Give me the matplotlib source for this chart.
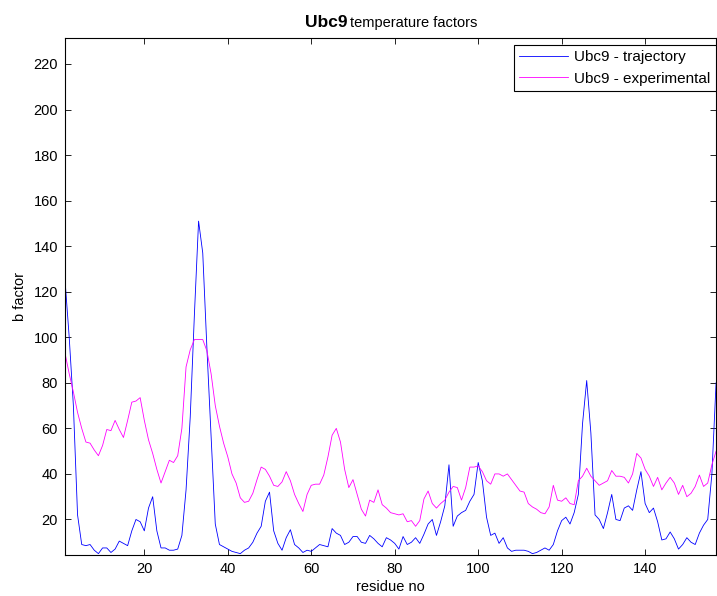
import numpy as np
import matplotlib
matplotlib.use("Agg")
import matplotlib.pyplot as plt

plt.rcParams['font.family'] = ['Liberation Sans', 'DejaVu Sans']

# residue numbers 1..157
residues = np.arange(1, 158)

# b factors from the trajectory (blue)
b_traj = [
    125, 100, 70, 22, 9, 8.5, 9, 6.5, 5, 7.5,
    7.5, 5.5, 7, 10.5, 9.5, 8.5, 15, 20, 19, 15,
    25, 30, 15, 7.5, 7.5, 6.5, 6.5, 7, 13, 33,
    65, 110, 151, 137, 95, 57, 18, 9, 8, 7,
    6, 5.5, 5, 6.5, 7.5, 10, 14, 17, 28, 32,
    15, 9.5, 6.5, 12, 15.5, 9, 7.5, 5.5, 6.5, 6,
    7.5, 9, 8.5, 8, 16, 14, 13, 9, 10, 12.5,
    12.5, 10, 9.5, 13, 11.5, 9.5, 8, 12, 11, 9.5,
    7, 12.5, 9, 10, 12, 9.5, 13.5, 18, 20, 13,
    19, 26, 44, 17, 21.5, 23, 24, 28, 31, 45,
    37, 21, 13, 14, 9.5, 12, 7.5, 6, 6.5, 6.5,
    6.5, 6, 5, 5.5, 6.5, 7.5, 6.5, 9, 15, 19.5,
    21, 18, 23, 31, 62, 81, 58, 22, 20, 16,
    23, 31, 20, 19.5, 25, 26, 24, 33, 41, 27,
    23, 25, 19, 11, 11.5, 14.5, 11.5, 7, 9, 12,
    10, 9, 14, 17.5, 20, 40, 80,
]

# b factors from the crystal structure (magenta)
b_exp = [
    93, 84, 76, 67, 60, 54, 53.5, 50.5, 48, 52.5,
    59.5, 59, 63.5, 59.5, 56, 63.5, 71.5, 72, 73.5, 63.5,
    55, 49, 42, 36, 41, 46, 45, 48, 60, 87,
    94.5, 99, 99, 99, 94, 84, 70, 61, 53.5, 47.5,
    40, 36, 29.5, 27.5, 28, 31.5, 37.5, 43, 42, 39,
    35, 34.5, 36.5, 41, 37, 31, 27, 23.5, 31, 35,
    35.5, 35.5, 39.5, 47.5, 57, 60, 54, 42, 34, 37.5,
    31, 24.5, 21.5, 28.5, 27.5, 33, 26.5, 25, 23, 22.5,
    22, 22.5, 19, 19.5, 17, 19.5, 29, 32.5, 27, 25,
    27, 28.5, 32, 34.5, 34, 28.5, 34, 43, 43, 43.5,
    41, 37, 35.5, 40, 40, 39, 40, 37.5, 35, 32.5,
    32, 27, 25.5, 24.5, 23, 22.5, 25.5, 35, 28.5, 28,
    29.5, 27, 26.5, 37, 39, 42.5, 39, 37, 35, 36,
    37, 41.5, 39, 39, 38.5, 36, 40, 49, 47, 42,
    39, 34.5, 38.5, 33, 36, 38.5, 36, 31, 35, 30,
    31.5, 34.5, 39.5, 34.5, 36, 44, 50,
]

y_ticks = [20, 40, 60, 80, 100, 120, 140, 160, 180, 200, 220]
x_ticks = [20, 40, 60, 80, 100, 120, 140]

fig = plt.figure(figsize=(7.17, 5.96), dpi=100)
ax = fig.add_axes([0.0907, 0.0688, 0.908, 0.8674])

ax.plot(residues, b_traj, color=(0, 0, 1), lw=0.6, label='Ubc9 - trajectory')
ax.plot(residues, b_exp, color=(1, 0, 1), lw=0.6, label='Ubc9 - experimental')

ax.set_xlim(1, 157)
ax.set_ylim(4.4, 231.4)
ax.set_xticks(x_ticks)
ax.set_yticks(y_ticks)
ax.tick_params(direction='in', length=4, width=0.6, top=True, right=True,
               labelsize=10.5, pad=5)
for s in ax.spines.values():
    s.set_linewidth(0.8)

ax.set_xlabel('residue no', fontsize=10.5, labelpad=3)
ax.set_ylabel('b factor', fontsize=10.5, labelpad=5)

# title: bold protein name followed by plain text
fig.text(0.4845, 0.955, 'Ubc9', fontsize=12.5, fontweight='bold',
         ha='right', va='baseline')
fig.text(0.4885, 0.955, 'temperature factors', fontsize=10.5,
         ha='left', va='baseline')

leg = ax.legend(loc='upper right', bbox_to_anchor=(1.0, 0.987), borderaxespad=0,
                fontsize=11, handlelength=3.2, handletextpad=0.4,
                borderpad=0.35, labelspacing=0.5, fancybox=False,
                framealpha=1, edgecolor='black')
leg.get_frame().set_linewidth(0.8)

fig.savefig('out.png', dpi=100)
